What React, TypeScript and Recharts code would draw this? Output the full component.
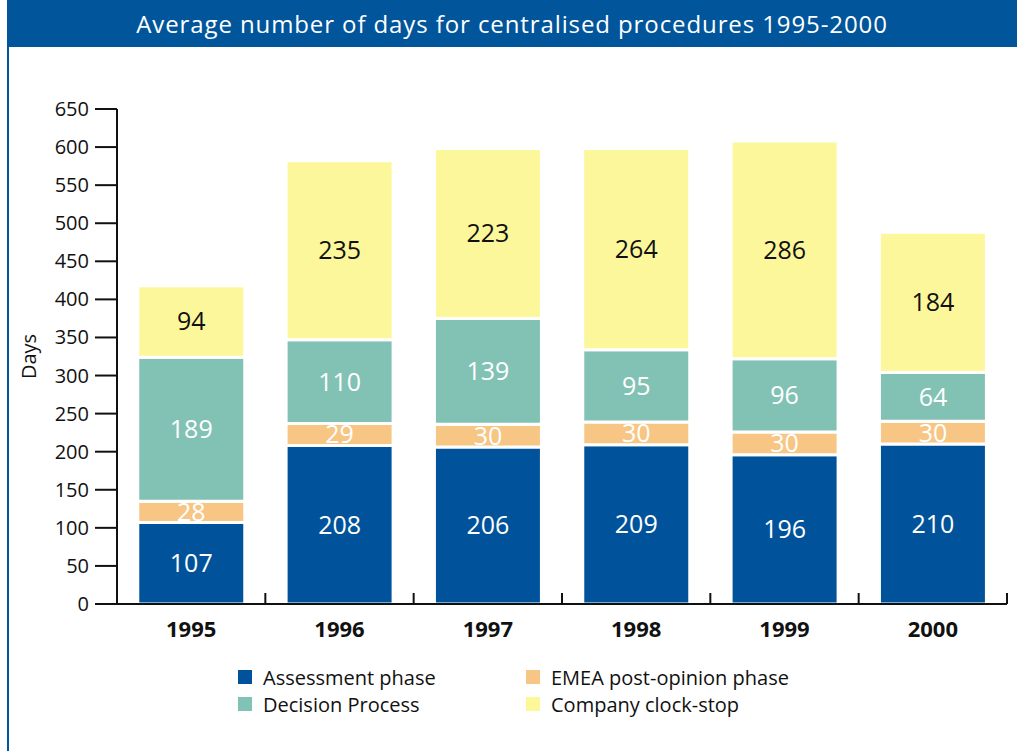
import React from "react";
import { BarChart, Bar, XAxis, YAxis, LabelList } from "recharts";

const years = ["1995", "1996", "1997", "1998", "1999", "2000"];
const assessment = [107, 208, 206, 209, 196, 210];
const postOpinion = [28, 29, 30, 30, 30, 30];
const decision = [189, 110, 139, 95, 96, 64];
const clockStop = [94, 235, 223, 264, 286, 184];
const yTicks = [0, 50, 100, 150, 200, 250, 300, 350, 400, 450, 500, 550, 600, 650];

const series = [
  { key: "assessment", name: "Assessment phase", color: "#00539B", label: "#ffffff" },
  { key: "postOpinion", name: "EMEA post-opinion phase", color: "#F7C684", label: "#ffffff" },
  { key: "decision", name: "Decision Process", color: "#82C2B5", label: "#ffffff" },
  { key: "clockStop", name: "Company clock-stop", color: "#FDF79B", label: "#111111" },
];

const data = years.map((y, i) => ({
  year: y,
  assessment: assessment[i],
  postOpinion: postOpinion[i],
  decision: decision[i],
  clockStop: clockStop[i],
}));

const FONT = "'Open Sans', 'DejaVu Sans', sans-serif";
const BLUE = "#00559B";

const XTick = (props: any) => {
  const { x, y, payload } = props;
  const w = typeof props.width === "number" && props.width > 100 ? props.width : 890;
  const half = w / years.length / 2;
  return (
    <g>
      <line x1={x + half} y1={y} x2={x + half} y2={y - 11} stroke="#111" strokeWidth={2} />
      <text x={x} y={y + 33} textAnchor="middle" fontFamily={FONT} fontWeight={700} fontSize={22} fill="#111">
        {payload.value}
      </text>
    </g>
  );
};

const YTick = (props: any) => {
  const { x, y, payload } = props;
  return (
    <text x={x - 4} y={y + 7} textAnchor="end" fontFamily={FONT} fontSize={20} fill="#111">
      {payload.value}
    </text>
  );
};

const legendLayout: Array<[number, number, number]> = [
  [0, 0, 0],
  [1, 1, 0],
  [2, 0, 1],
  [3, 1, 1],
];

export default function App() {
  return (
    <div style={{ position: "absolute", left: 0, top: 0, width: 1017, height: 751, background: "#fff", overflow: "hidden", fontFamily: FONT }}>
      <div style={{ position: "absolute", left: 7, top: 0, width: 1010, height: 47, background: BLUE, color: "#fff", fontSize: 24, lineHeight: "47px", textAlign: "center", letterSpacing: 0.9, paddingRight: 0 }}>
        Average number of days for centralised procedures 1995-2000
      </div>
      <div style={{ position: "absolute", left: 7, top: 0, width: 2, height: 751, background: BLUE }} />
      <div style={{ position: "absolute", left: 0, top: 0 }}>
        <BarChart
          width={1017}
          height={751}
          data={data}
          margin={{ top: 109, right: 10, left: 0, bottom: 147 - 40 }}
          barCategoryGap="14%"
        >
          <XAxis
            dataKey="year"
            height={40}
            axisLine={{ stroke: "#111", strokeWidth: 2 }}
            tickLine={false}
            tickSize={0}
            tickMargin={0}
            tick={<XTick />}
            interval={0}
          />
          <YAxis
            width={117}
            domain={[0, 650]}
            ticks={yTicks}
            interval={0}
            axisLine={{ stroke: "#111", strokeWidth: 2 }}
            tickLine={{ stroke: "#111", strokeWidth: 2 }}
            tickSize={22}
            tick={<YTick />}
            label={{ value: "Days", angle: -90, position: "insideLeft", offset: 29, style: { fontFamily: FONT, fontSize: 20, fill: "#111", textAnchor: "middle" } }}
          />
          {series.map((s) => (
            <Bar key={s.key} dataKey={s.key} stackId="a" fill={s.color} stroke="#ffffff" strokeWidth={3} isAnimationActive={false}>
              <LabelList dataKey={s.key} position="center" fill={s.label} fontSize={25} fontFamily={FONT} />
            </Bar>
          ))}
        </BarChart>
      </div>
      {legendLayout.map(([si, col, row]) => {
        const s = series[si];
        return (
          <div key={s.key} style={{ position: "absolute", left: col === 0 ? 238 : 526, top: 666 + row * 27, height: 22, display: "flex", alignItems: "center" }}>
            <div style={{ width: 14, height: 14, background: s.color, marginRight: 11 }} />
            <span style={{ fontSize: 20, color: "#111", whiteSpace: "nowrap" }}>{s.name}</span>
          </div>
        );
      })}
    </div>
  );
}
